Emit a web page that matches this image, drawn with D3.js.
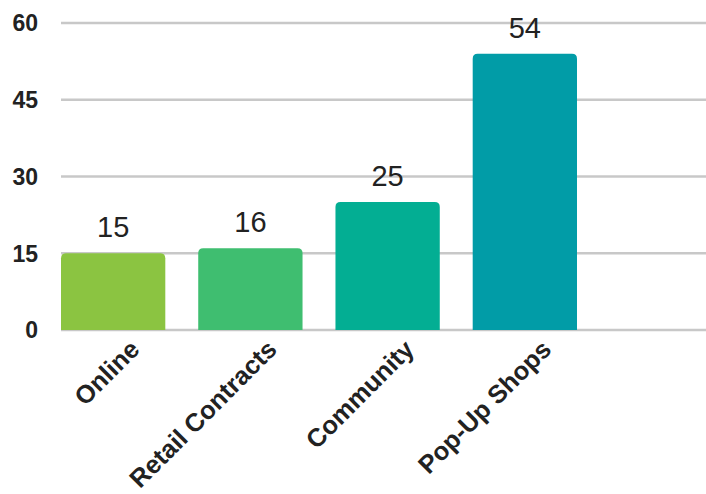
<!DOCTYPE html>
<html>
<head>
<meta charset="utf-8">
<script src="https://cdn.jsdelivr.net/npm/d3@7"></script>
<style>
  html, body { margin: 0; padding: 0; background: #fff; }
  svg { display: block; font-family: "Liberation Sans", Arial, sans-serif; }
</style>
</head>
<body>
<svg id="chart" width="706" height="494"></svg>
<script>
// chart data
const categories = ["Online", "Retail Contracts", "Community", "Pop-Up Shops"];
const values = [15, 16, 25, 54];
const colors = ["#8bc441", "#3fbe70", "#03ae93", "#019ca7"];
const yTicks = [0, 15, 30, 45, 60];

const width = 706, height = 494;
const plot = { left: 61, right: 706, top: 23, bottom: 330 };

const svg = d3.select("#chart");

const x = d3.scaleBand()
  .domain(categories)
  .range([plot.left, 577])
  .paddingInner(0.24)
  .paddingOuter(0)
  .align(0);

const y = d3.scaleLinear()
  .domain([0, 60])
  .range([plot.bottom, plot.top]);

// gridlines
svg.append("g")
  .selectAll("line")
  .data(yTicks)
  .enter()
  .append("line")
  .attr("x1", plot.left)
  .attr("x2", plot.right)
  .attr("y1", d => y(d))
  .attr("y2", d => y(d))
  .attr("stroke", "#c8c8c8")
  .attr("stroke-width", 2.5);

// y labels
svg.append("g")
  .selectAll("text")
  .data(yTicks)
  .enter()
  .append("text")
  .attr("x", 38)
  .attr("y", d => y(d))
  .attr("dy", "0.36em")
  .attr("text-anchor", "end")
  .attr("font-size", 23)
  .attr("font-weight", "bold")
  .attr("fill", "#222")
  .text(d => d);

// bars, rounded top corners only
const r = 5;
function barPath(i) {
  const x0 = x(categories[i]);
  const w = x.bandwidth();
  const y0 = y(values[i]);
  const yb = y(0);
  return `M${x0},${yb}V${y0 + r}Q${x0},${y0} ${x0 + r},${y0}H${x0 + w - r}Q${x0 + w},${y0} ${x0 + w},${y0 + r}V${yb}Z`;
}
svg.append("g")
  .selectAll("path")
  .data(values)
  .enter()
  .append("path")
  .attr("d", (d, i) => barPath(i))
  .attr("fill", (d, i) => colors[i]);

// value labels
svg.append("g")
  .selectAll("text")
  .data(values)
  .enter()
  .append("text")
  .attr("x", (d, i) => x(categories[i]) + x.bandwidth() / 2)
  .attr("y", d => y(d) - 16)
  .attr("text-anchor", "middle")
  .attr("font-size", 29)
  .attr("fill", "#222")
  .text(d => d);

// category labels
svg.append("g")
  .selectAll("text")
  .data(categories)
  .enter()
  .append("text")
  .attr("transform", d => `translate(${x(d) + x.bandwidth() / 2 + 28},${plot.bottom + 21}) rotate(-45)`)
  .attr("text-anchor", "end")
  .attr("font-size", 25.5)
  .attr("font-weight", "bold")
  .attr("fill", "#222")
  .text(d => d);
</script>
</body>
</html>
